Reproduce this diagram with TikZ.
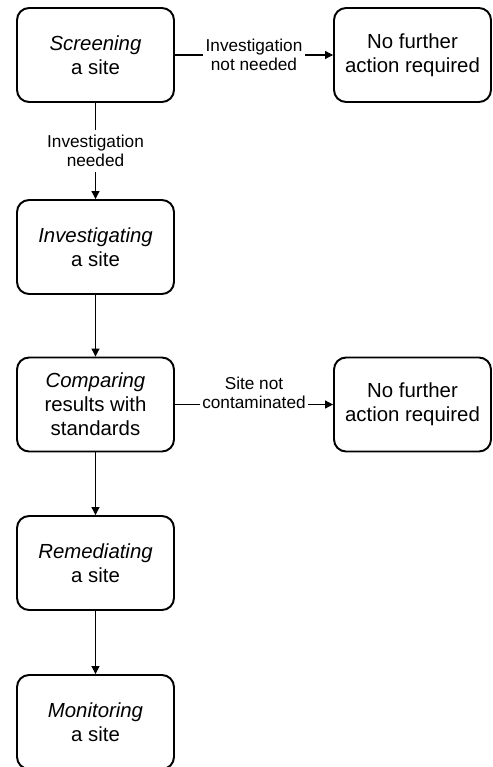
\documentclass[tikz,border=0pt]{standalone}
\usepackage{fontspec}
\setmainfont{Liberation Sans}
\usetikzlibrary{arrows.meta}

\begin{document}
\begin{tikzpicture}[x=0.02cm, y=-0.02cm,
    stage/.style={draw, line width=1.1pt, rounded corners=0.24cm,
        minimum width=3.14cm, minimum height=1.88cm, inner sep=0pt,
        align=center, font=\fontsize{11.6pt}{13.6pt}\selectfont},
    flow/.style={line width=0.6pt, -{Triangle[length=0.16cm, width=0.16cm]}},
    cond/.style={fill=white, align=center, inner xsep=1.5pt, inner ysep=3pt,
        font=\fontsize{9.8pt}{11pt}\selectfont}]
    \useasboundingbox (0,0) rectangle (493,767);

    % Draw the stages down the left column
    \node[stage] (screening) at (95.5,55) {\textit{Screening}\\a site};
    \node[stage] (investigating) at (95.5,247) {\textit{Investigating}\\a site};
    \node[stage] (comparing) at (95.5,404.5) {\textit{Comparing}\\results with\\standards};
    \node[stage] (remediating) at (95.5,563) {\textit{Remediating}\\a site};
    \node[stage] (monitoring) at (95.5,722) {\textit{Monitoring}\\a site};

    % Draw the two end points on the right
    \node[stage] (nofurtherA) at (412.5,55) {No further\\action required};
    \node[stage] (nofurtherB) at (412.5,404.5) {No further\\action required};

    % Draw the flow between them
    \draw[flow] (screening) -- node[cond] {Investigation\\not needed} (nofurtherA);
    \draw[flow] (screening) -- node[cond] {Investigation\\needed} (investigating);
    \draw[flow] (investigating) -- (comparing);
    \draw[flow] (comparing) -- node[cond, yshift=0.23cm] {Site not\\contaminated} (nofurtherB);
    \draw[flow] (comparing) -- (remediating);
    \draw[flow] (remediating) -- (monitoring);
\end{tikzpicture}
\end{document}
